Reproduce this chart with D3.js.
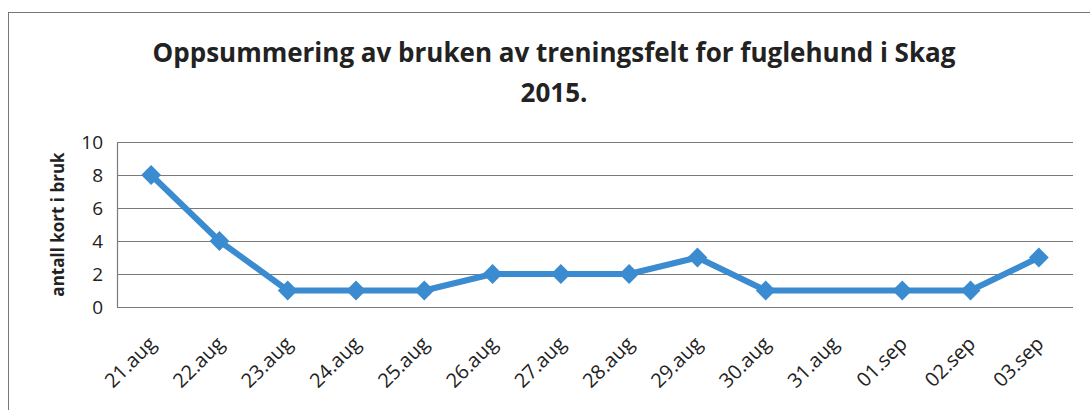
<!DOCTYPE html>
<html>
<head>
<meta charset="utf-8">
<script src="https://cdn.jsdelivr.net/npm/d3@7"></script>
<style>
  body { margin: 0; background: #fff; }
  text { font-family: "Open Sans", sans-serif; fill: #222; }
</style>
</head>
<body>
<script>
// data
const dates = ["21.aug", "22.aug", "23.aug", "24.aug", "25.aug", "26.aug", "27.aug",
  "28.aug", "29.aug", "30.aug", "31.aug", "01.sep", "02.sep", "03.sep"];
const kort = [8, 4, 1, 1, 1, 2, 2, 2, 3, 1, null, 1, 1, 3];
const yTicks = [0, 2, 4, 6, 8, 10];

const width = 1090, height = 410;
const margin = { left: 117, right: 17, top: 142, bottom: 103 };

const svg = d3.select("body").append("svg")
  .attr("width", width)
  .attr("height", height);

// chart frame
svg.append("rect")
  .attr("x", 8.5).attr("y", 12.5)
  .attr("width", 1090).attr("height", 420)
  .attr("fill", "none")
  .attr("stroke", "#777")
  .attr("stroke-width", 1);

// title
const title = svg.append("text")
  .attr("text-anchor", "middle")
  .style("font-size", "26px")
  .style("font-weight", "bold");
title.append("tspan").attr("x", 554).attr("y", 62).text("Oppsummering av bruken av treningsfelt for fuglehund i Skag");
title.append("tspan").attr("x", 554).attr("y", 102).text("2015.");

const x = d3.scaleBand()
  .domain(dates)
  .range([margin.left, width - margin.right]);

const y = d3.scaleLinear()
  .domain([0, 10])
  .range([height - margin.bottom, margin.top]);

// gridlines
svg.append("g")
  .selectAll("line")
  .data(yTicks)
  .join("line")
  .attr("x1", margin.left)
  .attr("x2", width - margin.right)
  .attr("y1", d => y(d) + 0.5)
  .attr("y2", d => y(d) + 0.5)
  .attr("stroke", "#7a7a7a")
  .attr("stroke-width", 1.2);

// y axis
const yAxis = svg.append("g")
  .attr("transform", `translate(${margin.left},0)`)
  .call(d3.axisLeft(y).tickValues(yTicks).tickSize(0).tickPadding(14));
yAxis.select(".domain").attr("stroke", "#7a7a7a").attr("stroke-width", 1.2);
yAxis.selectAll("text").style("font-size", "19px").attr("fill", "#222");

svg.append("text")
  .attr("transform", `translate(64,${y(5)}) rotate(-90)`)
  .attr("text-anchor", "middle")
  .style("font-size", "17px")
  .style("font-weight", "bold")
  .text("antall kort i bruk");

// x axis
const xAxis = svg.append("g")
  .attr("transform", `translate(0,${height - margin.bottom})`)
  .call(d3.axisBottom(x).tickSize(0).tickPadding(0));
xAxis.select(".domain").remove();
xAxis.selectAll("text")
  .style("font-size", "20px")
  .attr("fill", "#222")
  .attr("text-anchor", "end")
  .attr("dy", 0)
  .attr("transform", "translate(6,38) rotate(-45)");

// line, spanning the missing day
const pts = dates.map((d, i) => ({ d, v: kort[i] })).filter(p => p.v != null);
const line = d3.line()
  .x(p => x(p.d) + x.bandwidth() / 2)
  .y(p => y(p.v));

svg.append("path")
  .datum(pts)
  .attr("d", line)
  .attr("fill", "none")
  .attr("stroke", "#3a8bd0")
  .attr("stroke-width", 6)
  .attr("stroke-linejoin", "round");

svg.append("g")
  .selectAll("path")
  .data(pts)
  .join("path")
  .attr("d", d3.symbol(d3.symbolDiamond2, 250))
  .attr("transform", p => `translate(${x(p.d) + x.bandwidth() / 2},${y(p.v)})`)
  .attr("fill", "#3a8bd0");
</script>
</body>
</html>
